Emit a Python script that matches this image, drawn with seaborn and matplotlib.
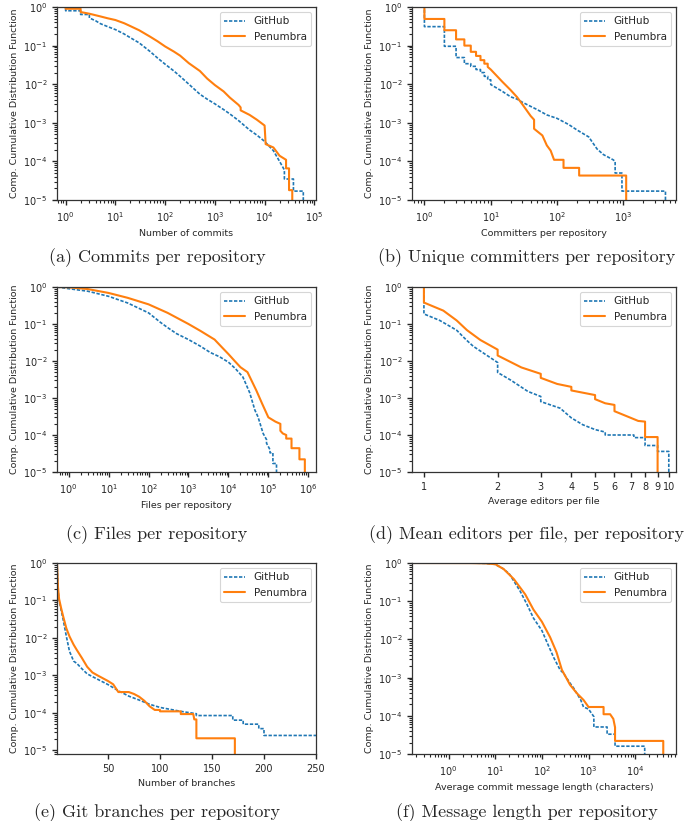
import seaborn as sns
import numpy as np
import matplotlib.pyplot as plt
from matplotlib.ticker import NullLocator, FixedFormatter

sns.set_theme(style="ticks", context="paper")
plt.rcParams['font.family'] = ['DejaVu Sans']
plt.rcParams.update({
    'axes.linewidth': 0.9,
    'axes.edgecolor': '0.2',
    'xtick.major.size': 3.5, 'ytick.major.size': 3.5,
    'xtick.minor.size': 2, 'ytick.minor.size': 2,
    'xtick.labelsize': 7, 'ytick.labelsize': 7,
    'axes.labelsize': 6.8,
})

# (a) commits per repository
commits_x_github = [0.67, 1, 1, 2, 2, 3, 3, 4, 5, 7, 10, 15, 20, 30, 50, 70, 100, 150, 200, 300, 500,
                    700, 1000, 1500, 2000, 3000, 5000, 7000, 10000, 15000, 20000, 25000, 25000, 38000,
                    38000, 60000, 60000]
commits_y_github = [1, 1, 0.80, 0.80, 0.64, 0.64, 0.52, 0.44, 0.37, 0.31, 0.26, 0.2, 0.16, 0.118, 0.07,
                    0.048, 0.033, 0.022, 0.016, 0.01, 0.0055, 0.0041, 0.0031, 0.0022, 0.0017, 0.00114,
                    0.00065, 0.00048, 0.00033, 0.00019, 0.0001, 0.00006, 0.000035, 0.000035, 0.000017,
                    0.000017, 1e-6]
commits_x_penumbra = [0.67, 1, 1, 2, 2, 3, 5, 7, 10, 15, 20, 30, 50, 70, 100, 150, 200, 300, 500, 700,
                      1000, 1500, 2000, 3000, 3300, 3300, 5000, 7000, 10000, 10500, 15000, 20000, 27000,
                      27000, 31000, 31000, 36000, 36000]
commits_y_penumbra = [1, 1, 0.9, 0.9, 0.74, 0.67, 0.57, 0.51, 0.46, 0.38, 0.32, 0.25, 0.17, 0.13, 0.095,
                      0.07, 0.055, 0.035, 0.022, 0.014, 0.0095, 0.0065, 0.0045, 0.0029, 0.0025, 0.0021,
                      0.0016, 0.0012, 0.00085, 0.00028, 0.00023, 0.00014, 0.00011, 0.000066, 0.000066,
                      0.000018, 0.000018, 1e-6]

# (b) unique committers per repository
committers_x_github = [0.65, 1, 1, 2, 2, 3, 3, 4, 4, 5, 5, 6, 6, 7, 7, 8, 8, 9, 9, 10, 10, 15, 20, 25,
                       30, 50, 70, 100, 150, 200, 300, 400, 500, 700, 750, 750, 950, 950, 4300, 4300]
committers_y_github = [1, 1, 0.31, 0.31, 0.096, 0.096, 0.049, 0.049, 0.034, 0.034, 0.029, 0.029, 0.024,
                       0.024, 0.02, 0.02, 0.016, 0.016, 0.013, 0.013, 0.0098, 0.0065, 0.0047, 0.0041,
                       0.0034, 0.0022, 0.0016, 0.0013, 0.0009, 0.00065, 0.00043, 0.00021, 0.00015,
                       0.00011, 0.0001, 0.00005, 0.00005, 0.000017, 0.000017, 1e-6]
committers_x_penumbra = [0.65, 1, 1, 2, 2, 3, 3, 4, 4, 5, 5, 6, 6, 7, 7, 8, 8, 9, 9, 10, 15, 20, 25, 30,
                         40, 45, 45, 60, 70, 80, 90, 125, 125, 215, 215, 1100, 1100]
committers_y_penumbra = [1, 1, 0.49, 0.49, 0.25, 0.25, 0.145, 0.145, 0.1, 0.1, 0.069, 0.069, 0.054,
                         0.054, 0.042, 0.042, 0.034, 0.034, 0.028, 0.024, 0.0115, 0.007, 0.0046, 0.003,
                         0.0015, 0.0012, 0.0007, 0.00047, 0.00026, 0.00019, 0.00011, 0.00011, 0.000068,
                         0.000068, 0.000043, 0.000043, 1e-6]

# (c) files per repository
files_x_github = [0.51, 1, 3, 10, 30, 100, 200, 300, 500, 1000, 2000, 3500, 6000, 10000, 15000, 23000,
                  34000, 46000, 55000, 74000, 90000, 90000, 110000, 110000, 130000, 130000, 160000, 160000]
files_y_github = [1, 0.9, 0.77, 0.56, 0.37, 0.2, 0.11, 0.08, 0.055, 0.038, 0.025, 0.017, 0.013, 0.0093,
                  0.0062, 0.0037, 0.0014, 0.00047, 0.00031, 0.00011, 0.000075, 0.00006, 0.00004, 0.000033,
                  0.000033, 0.000017, 0.000017, 1e-6]
files_x_penumbra = [0.51, 1, 3, 10, 30, 100, 300, 1000, 2000, 4500, 7000, 10000, 15000, 20000, 30000,
                    50000, 70000, 100000, 150000, 200000, 200000, 230000, 280000, 280000, 380000, 380000,
                    600000, 600000, 820000, 820000]
files_y_penumbra = [1, 0.98, 0.88, 0.69, 0.51, 0.34, 0.2, 0.1, 0.065, 0.038, 0.023, 0.0154, 0.0095,
                    0.0068, 0.005, 0.0016, 0.0007, 0.0003, 0.00023, 0.0002, 0.00013, 0.00011, 0.0001,
                    0.00008, 0.00008, 0.000044, 0.000044, 0.000022, 0.000022, 1e-6]

# (d) mean editors per file
editors_x_github = [0.894, 1, 1, 1.16, 1.36, 1.49, 1.59, 2, 2, 2.27, 2.66, 3, 3, 3.6, 4, 4.45, 5, 5.5,
                    5.5, 7, 7.2, 7.2, 8, 8, 9, 9, 10, 10]
editors_y_github = [1, 1, 0.187, 0.125, 0.068, 0.037, 0.025, 0.0091, 0.0049, 0.003, 0.0015, 0.0011,
                    0.0008, 0.00053, 0.00029, 0.00019, 0.00014, 0.00012, 0.0001, 0.0001, 0.0001, 0.000085,
                    0.000085, 0.000052, 0.000052, 0.000036, 0.000036, 1e-6]
editors_x_penumbra = [0.894, 1, 1, 1.2, 1.36, 1.5, 1.7, 2, 2, 2.5, 3, 3, 3.5, 4, 4, 5, 5, 5.5, 6, 6, 7,
                      7.5, 8, 8, 9, 9]
editors_y_penumbra = [1, 1, 0.38, 0.23, 0.125, 0.068, 0.037, 0.0203, 0.0141, 0.0067, 0.0045, 0.0035,
                      0.0024, 0.002, 0.0016, 0.0012, 0.00093, 0.00072, 0.00065, 0.00044, 0.00029, 0.00024,
                      0.00023, 0.000088, 0.000088, 1e-6]
editor_ticks = [1, 2, 3, 4, 5, 6, 7, 8, 9, 10]

# (e) git branches per repository
branches_x_github = [1, 2, 3, 5, 7, 10, 13, 17, 20, 25, 30, 40, 50, 60, 70, 80, 90, 100, 120, 135, 135,
                     170, 170, 180, 180, 195, 195, 200, 200, 250]
branches_y_github = [1, 0.19, 0.1, 0.055, 0.03, 0.011, 0.0044, 0.0024, 0.0021, 0.0015, 0.0011, 0.00079,
                     0.00057, 0.00039, 0.00028, 0.00022, 0.00017, 0.00014, 0.00011, 0.000095, 0.000085,
                     0.000085, 0.000064, 0.000064, 0.00005, 0.00005, 0.000038, 0.000038, 0.000025,
                     0.000025]
branches_x_penumbra = [1, 2, 3, 5, 7, 10, 13, 17, 20, 25, 30, 35, 40, 50, 55, 60, 70, 75, 80, 85, 90, 95,
                       100, 100, 120, 120, 132, 133, 135, 135, 172, 172]
branches_y_penumbra = [1, 0.22, 0.11, 0.062, 0.037, 0.018, 0.011, 0.0066, 0.0048, 0.0029, 0.0017, 0.0012,
                       0.001, 0.00071, 0.00058, 0.00036, 0.00036, 0.00032, 0.00027, 0.00021, 0.00015,
                       0.00012, 0.00012, 0.00011, 0.00011, 0.000093, 0.000093, 0.000067, 0.000067,
                       0.000021, 0.000021, 1e-6]

# (f) average commit message length
msglen_x_github = [0.164, 3, 6, 10, 15, 20, 34, 48, 66, 100, 128, 178, 245, 290, 400, 480, 680, 780, 1000,
                   1300, 1300, 2500, 2500, 3700, 3700, 16000, 16000]
msglen_y_github = [1, 0.995, 0.98, 0.92, 0.70, 0.52, 0.185, 0.082, 0.036, 0.017, 0.0085, 0.0034, 0.0016,
                   0.0013, 0.00072, 0.00053, 0.00026, 0.00017, 0.00015, 0.000095, 0.000051, 0.000051,
                   0.000033, 0.000033, 0.000016, 0.000016, 1e-6]
msglen_x_penumbra = [0.164, 3, 6, 10, 15, 25, 44, 66, 100, 150, 206, 268, 400, 560, 780, 1000, 2100, 2100,
                     2900, 3400, 3700, 3700, 40000, 40000]
msglen_y_penumbra = [1, 0.995, 0.98, 0.93, 0.70, 0.38, 0.15, 0.06, 0.029, 0.0114, 0.0046, 0.0016, 0.00065,
                     0.00039, 0.00026, 0.00017, 0.00017, 0.00011, 0.00011, 0.000083, 0.00005, 0.000022,
                     0.000022, 1e-6]

panels = [
    (commits_x_github, commits_y_github, commits_x_penumbra, commits_y_penumbra,
     "Number of commits", (0.67, 1.08e5), "log", "(a) Commits per repository"),
    (committers_x_github, committers_y_github, committers_x_penumbra, committers_y_penumbra,
     "Committers per repository", (0.65, 6200), "log", "(b) Unique committers per repository"),
    (files_x_github, files_y_github, files_x_penumbra, files_y_penumbra,
     "Files per repository", (0.51, 1.56e6), "log", "(c) Files per repository"),
    (editors_x_github, editors_y_github, editors_x_penumbra, editors_y_penumbra,
     "Average editors per file", (0.894, 10.7), "log", "(d) Mean editors per file, per repository"),
    (branches_x_github, branches_y_github, branches_x_penumbra, branches_y_penumbra,
     "Number of branches", (1, 250), "linear", "(e) Git branches per repository"),
    (msglen_x_github, msglen_y_github, msglen_x_penumbra, msglen_y_penumbra,
     "Average commit message length (characters)", (0.164, 7.5e4), "log",
     "(f) Message length per repository"),
]

W, H = 685, 821
fig, axes = plt.subplots(3, 2, figsize=(6.85, 8.21), dpi=100)

# pixel boxes of the panels: columns (left, right), rows (top, bottom)
cols = [(57, 316), (412, 676)]
rows = [(7, 200), (287, 472), (563, 754)]

caption_y = [0.6857, 0.3484, 0.0105]
caption_x = [0.229, 0.769]

for i, (xg, yg, xp, yp, xlabel, xlim, xscale, caption) in enumerate(panels):
    ax = axes[i // 2, i % 2]
    (l, r), (t, b) = cols[i % 2], rows[i // 2]
    ax.set_position([l / W, 1 - b / H, (r - l) / W, (b - t) / H])
    sns.lineplot(x=xg, y=yg, ax=ax, color='#1f77b4', label='GitHub', estimator=None, sort=False,
                 linewidth=1.2, linestyle=(0, (2, 1)))
    sns.lineplot(x=xp, y=yp, ax=ax, color='#ff7f0e', label='Penumbra', estimator=None, sort=False,
                 linewidth=1.5)
    ax.set_xscale(xscale)
    ax.set_yscale('log')
    ax.set_xlim(*xlim)
    if i == 4:
        ax.set_ylim(8e-6, 1)
    else:
        ax.set_ylim(1e-5, 1)
    if i == 3:
        ax.set_xticks(editor_ticks)
        ax.xaxis.set_minor_locator(NullLocator())
        ax.xaxis.set_major_formatter(FixedFormatter([str(t) for t in editor_ticks]))
    ax.set_xlabel(xlabel)
    ax.set_ylabel("Comp. Cumulative Distribution Function", labelpad=3)
    ax.legend(loc='upper right', fontsize=7.5, frameon=True, fancybox=True, framealpha=0.8,
              edgecolor='0.8')
    fig.text(caption_x[i % 2], caption_y[i // 2], caption, ha='center', va='center',
             fontsize=13, family='cmr10')

plt.savefig("out.png", dpi=100)
